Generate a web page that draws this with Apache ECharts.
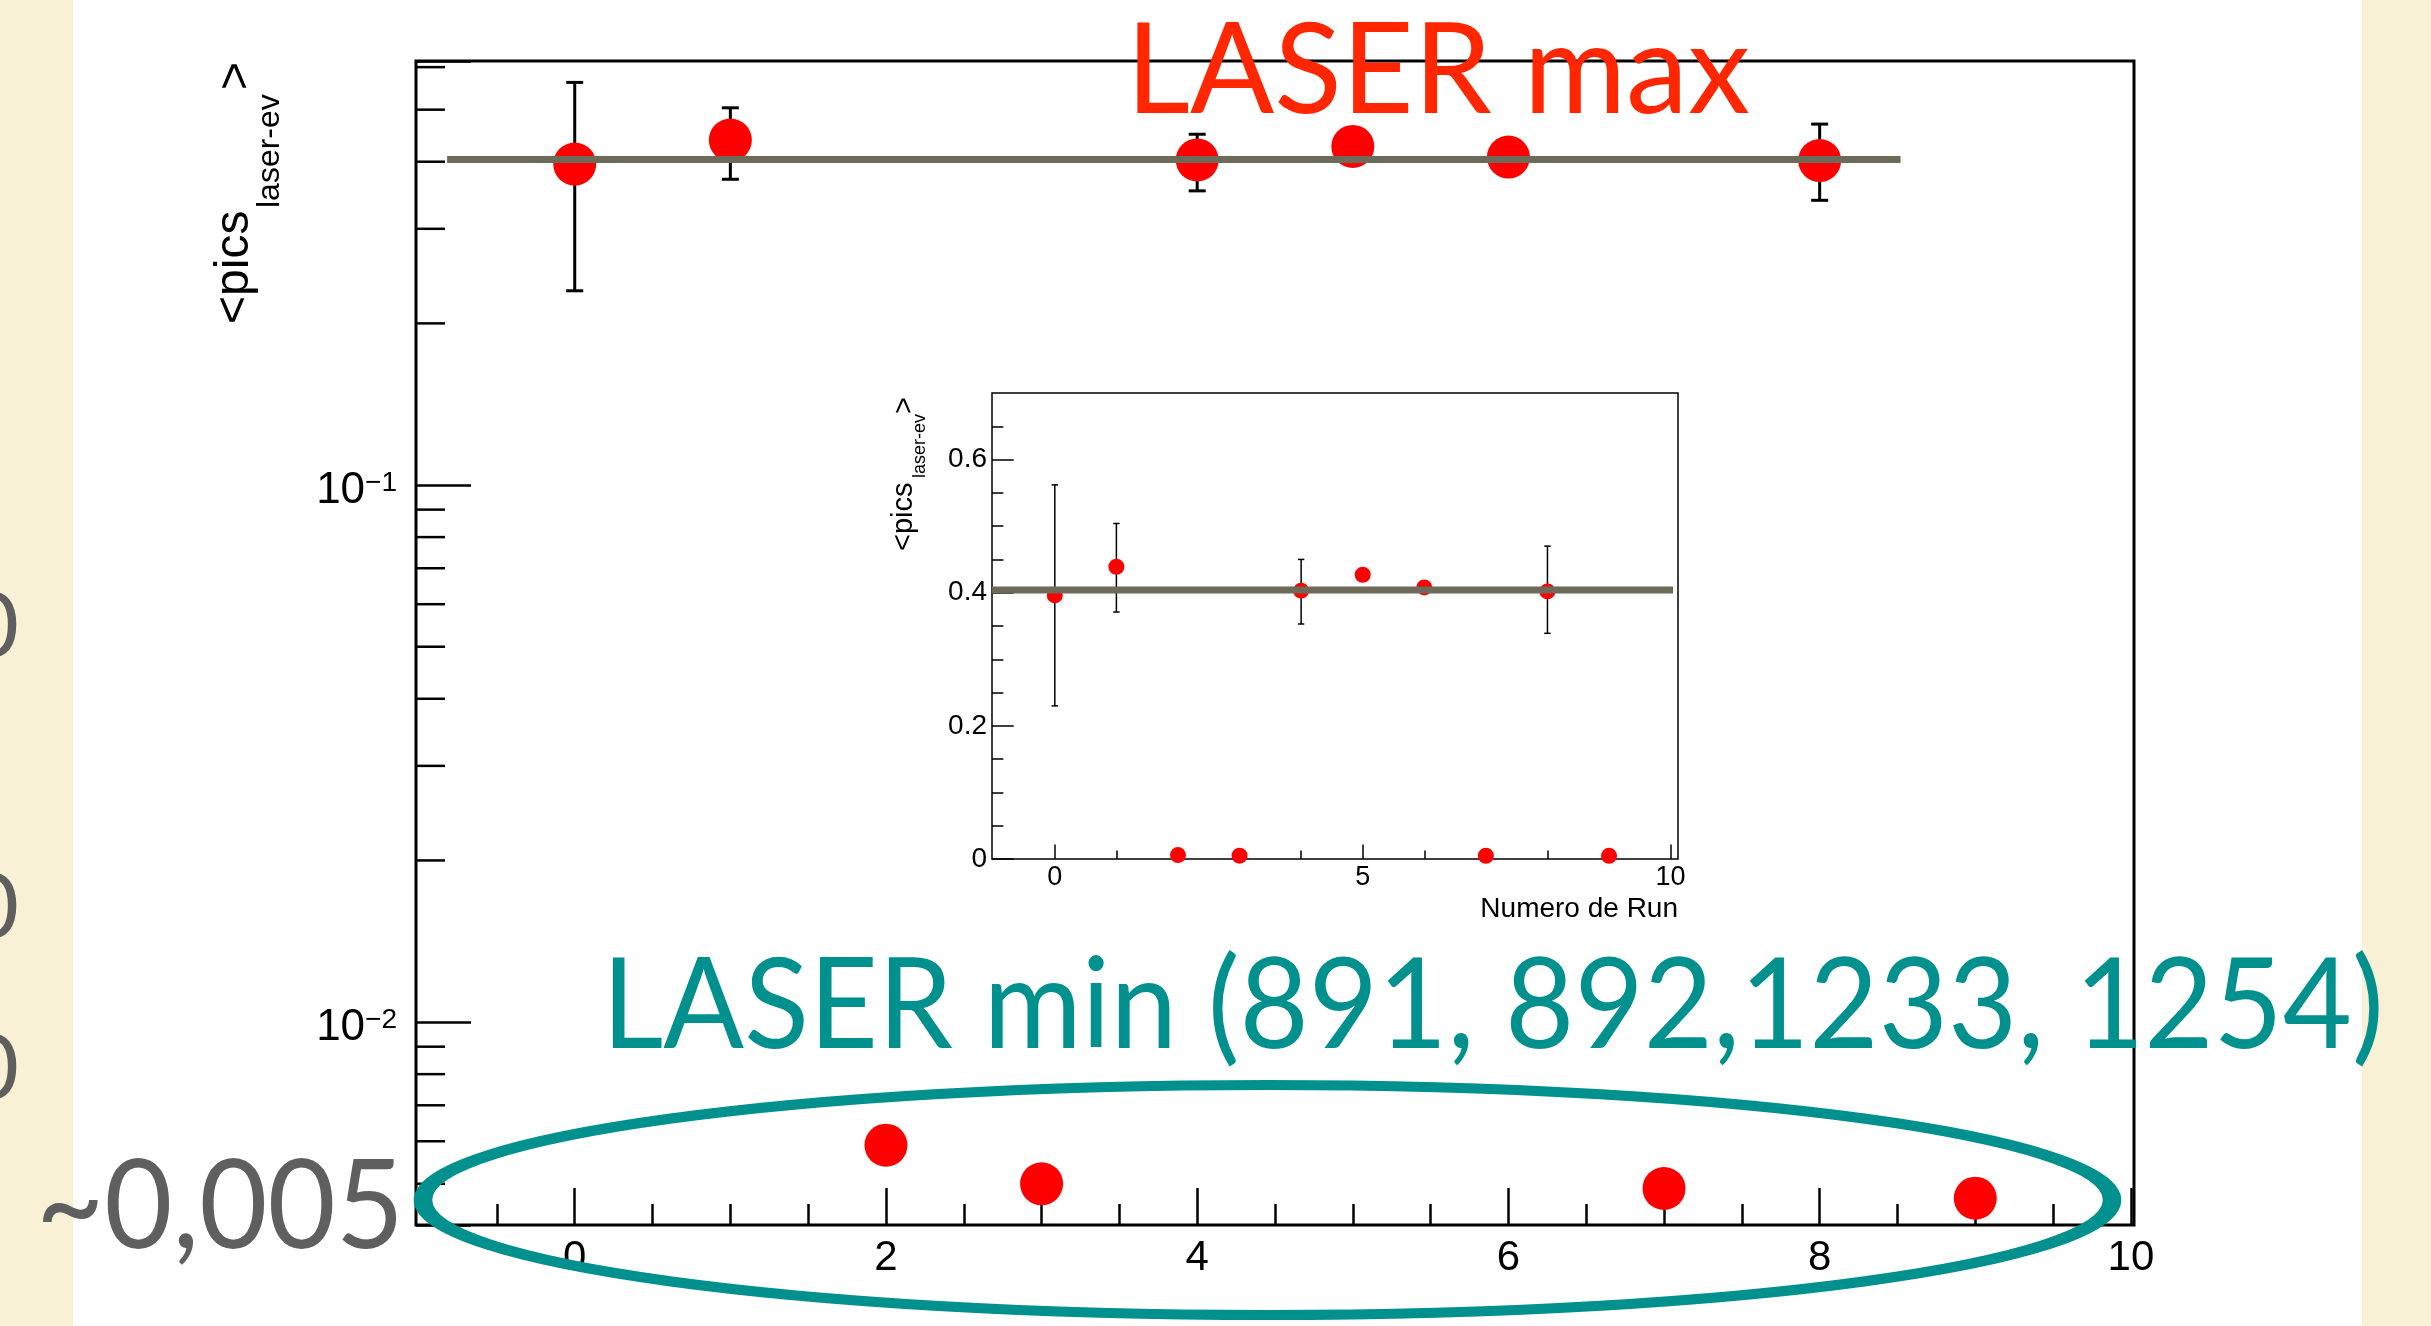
<!DOCTYPE html>
<html><head><meta charset="utf-8">
<script src="https://cdn.jsdelivr.net/npm/echarts@6/dist/echarts.min.js"></script>
<style>html,body{margin:0;padding:0;background:#fff}#c{width:2431px;height:1326px}</style>
</head><body><div id="c"></div>
<script>
// ---- data ----
const runs = [0, 1, 2, 3, 4, 5, 6, 7, 8, 9];
const picsMean = [0.396, 0.439, 0.0059, 0.0050, 0.403, 0.427, 0.408, 0.0049, 0.402, 0.0047];
const errRuns = [0, 1, 4, 8];
const errLow = [0.230, 0.371, 0.353, 0.339];
const errHigh = [0.562, 0.504, 0.450, 0.470];
const fitValue = 0.404;
const mainFitRange = [-0.82, 8.52];
const insetFitRange = [-1.02, 10.04];
const mainXTicks = [0, 2, 4, 6, 8, 10];
const mainXMinor = [-0.5, 0.5, 1, 1.5, 2.5, 3, 3.5, 4.5, 5, 5.5, 6.5, 7, 7.5, 8.5, 9, 9.5];
const mainYMinor = [0.005, 0.006, 0.007, 0.008, 0.009, 0.02, 0.03, 0.04, 0.05, 0.06, 0.07, 0.08, 0.09, 0.2, 0.3, 0.4, 0.5, 0.6];
const mainYDecadeLabels = {'0.01': '{a|10}{b|−2}', '0.1': '{a|10}{b|−1}'};
const insetXTicks = [0, 5, 10];
const insetXMinor = [1, 2, 3, 4, 6, 7, 8, 9];
const insetYTicks = [0, 0.2, 0.4, 0.6];
const insetYMinor = [0.05, 0.1, 0.15, 0.25, 0.3, 0.35, 0.45, 0.5, 0.55, 0.65];

// ---- layout / style ----
const FONT = 'Liberation Sans';
const SLIDE = 'Lato';
const mainX = [-1.02, 10.02], mainY = [0.00419, 0.616];
const insetX = [-1.02, 10.12], insetY = [0, 0.7];
const FITC = '#6d6a5a';

const cv = document.createElement('canvas').getContext('2d');
function fitScale(text, font, w) { cv.font = font; return w / cv.measureText(text).width; }

function errRender(capHalf, width) {
  return function (params, api) {
    const x = api.value(0), lo = api.value(1), hi = api.value(2);
    const a = api.coord([x, lo]), b = api.coord([x, hi]);
    const st = {stroke: '#000', lineWidth: width};
    return {type: 'group', children: [
      {type: 'line', shape: {x1: a[0], y1: a[1], x2: b[0], y2: b[1]}, style: st},
      {type: 'line', shape: {x1: a[0] - capHalf, y1: a[1], x2: a[0] + capHalf, y2: a[1]}, style: st},
      {type: 'line', shape: {x1: b[0] - capHalf, y1: b[1], x2: b[0] + capHalf, y2: b[1]}, style: st}
    ]};
  };
}
function yMinorRender(len, width) {
  return function (params, api) {
    const p = api.coord([api.value(0), api.value(1)]);
    return {type: 'line', shape: {x1: p[0], y1: p[1], x2: p[0] + len, y2: p[1]}, style: {stroke: '#000', lineWidth: width}};
  };
}
function tickAxis(grid, ext, vals, len, w, label, extra) {
  return Object.assign({
    gridIndex: grid, type: 'value', min: ext[0], max: ext[1], position: 'bottom',
    axisLine: {show: false, onZero: false}, splitLine: {show: false}, minorTick: {show: false},
    axisTick: {show: true, inside: true, length: len, customValues: vals, lineStyle: {color: '#000', width: w}},
    axisLabel: label ? Object.assign({customValues: vals, color: '#000', fontFamily: FONT}, label) : {show: false}
  }, extra || {});
}

const chart = echarts.init(document.getElementById('c'));
const fMax = `127px ${SLIDE}`, fMin = `127px ${SLIDE}`, fApprox = `124px ${SLIDE}`;
const txtMin = 'LASER min (891, 892,1233, 1254)';

chart.setOption({
  animation: false,
  backgroundColor: '#ffffff',
  textStyle: {fontFamily: FONT},
  grid: [
    {left: 416, top: 61, width: 1718, height: 1164, show: true, borderColor: '#000', borderWidth: 3, backgroundColor: 'transparent'},
    {left: 992, top: 393, width: 686, height: 466, show: true, borderColor: '#000', borderWidth: 1.5, backgroundColor: '#fff'}
  ],
  xAxis: [
    tickAxis(0, mainX, mainXTicks, 37, 2.5, {margin: 12, fontSize: 42}),
    tickAxis(0, mainX, mainXMinor, 21, 2.5, null),
    tickAxis(1, insetX, insetXTicks, 14.5, 1.5, {margin: 5, fontSize: 27}),
    tickAxis(1, insetX, insetXMinor, 8.4, 1.5, null)
  ],
  yAxis: [
    {gridIndex: 0, type: 'log', logBase: 10, min: mainY[0], max: mainY[1], position: 'left',
     axisLine: {show: false, onZero: false}, splitLine: {show: false}, minorTick: {show: false},
     axisTick: {show: true, inside: true, length: 55, lineStyle: {color: '#000', width: 2.5}},
     axisLabel: {margin: 19, padding: [12, 0, 0, 0],
       formatter: function (v) { const k = String(+v.toPrecision(6)); return mainYDecadeLabels[k] || ''; },
       rich: {a: {fontFamily: FONT, fontSize: 44, lineHeight: 44, color: '#000'},
              b: {fontFamily: FONT, fontSize: 28, color: '#000', verticalAlign: 'top', lineHeight: 18}}}},
    Object.assign(tickAxis(1, insetY, insetYTicks, 21.7, 1.5,
      {margin: 5, fontSize: 28, formatter: v => (v === 0 ? '0' : v.toFixed(1))}), {position: 'left'}),
    Object.assign(tickAxis(1, insetY, insetYMinor, 11.4, 1.5, null), {position: 'left'})
  ],
  series: [
    {type: 'custom', xAxisIndex: 0, yAxisIndex: 0, renderItem: errRender(8.5, 3), clip: false, z: 2, silent: true,
     encode: {x: 0, y: [1, 2]}, data: errRuns.map((x, i) => [x, errLow[i], errHigh[i]])},
    {type: 'scatter', xAxisIndex: 0, yAxisIndex: 0, symbol: 'circle', symbolSize: 43, z: 3, silent: true,
     itemStyle: {color: '#ff0000', opacity: 1}, data: runs.map((x, i) => [x, picsMean[i]])},
    {type: 'line', xAxisIndex: 0, yAxisIndex: 0, showSymbol: false, symbol: 'none', z: 4, silent: true,
     lineStyle: {color: FITC, width: 7, cap: 'butt'}, data: mainFitRange.map(x => [x, fitValue])},
    {type: 'custom', xAxisIndex: 0, yAxisIndex: 0, renderItem: yMinorRender(29, 2.5), clip: false, z: 2, silent: true,
     encode: {x: 0, y: 1}, data: mainYMinor.map(v => [mainX[0], v])},
    {type: 'custom', xAxisIndex: 2, yAxisIndex: 1, renderItem: errRender(3.2, 1.5), clip: false, z: 12, silent: true,
     encode: {x: 0, y: [1, 2]}, data: errRuns.map((x, i) => [x, errLow[i], errHigh[i]])},
    {type: 'scatter', xAxisIndex: 2, yAxisIndex: 1, symbol: 'circle', symbolSize: 16, z: 13, silent: true,
     itemStyle: {color: '#ff0000', opacity: 1}, data: runs.map((x, i) => [x, picsMean[i]])},
    {type: 'line', xAxisIndex: 2, yAxisIndex: 1, showSymbol: false, symbol: 'none', z: 14, silent: true,
     lineStyle: {color: FITC, width: 7, cap: 'butt'}, data: insetFitRange.map(x => [x, fitValue])}
  ],
  graphic: [
    {type: 'rect', z: -10, shape: {x: 0, y: 0, width: 73, height: 1326}, style: {fill: '#f9f1d5'}},
    {type: 'rect', z: -10, shape: {x: 2362, y: 0, width: 69, height: 1326}, style: {fill: '#f9f1d5'}},
    // main y title
    {type: 'text', x: 235, y: 324, rotation: Math.PI / 2, z: 50, style: {text: '<pics', fontFamily: FONT, fontSize: 48, fill: '#000', align: 'left', verticalAlign: 'middle'}},
    {type: 'text', x: 270, y: 208, rotation: Math.PI / 2, z: 50, style: {text: 'laser-ev', fontFamily: FONT, fontSize: 32, fill: '#000', align: 'left', verticalAlign: 'middle'}},
    {type: 'text', x: 237, y: 90, rotation: Math.PI / 2, z: 50, style: {text: '>', fontFamily: FONT, fontSize: 48, fill: '#000', align: 'left', verticalAlign: 'middle'}},
    // inset y title
    {type: 'text', x: 904, y: 551, rotation: Math.PI / 2, z: 50, style: {text: '<pics', fontFamily: FONT, fontSize: 29, fill: '#000', align: 'left', verticalAlign: 'middle'}},
    {type: 'text', x: 920, y: 478, rotation: Math.PI / 2, z: 50, style: {text: 'laser-ev', fontFamily: FONT, fontSize: 18, fill: '#000', align: 'left', verticalAlign: 'middle'}},
    {type: 'text', x: 905, y: 414, rotation: Math.PI / 2, z: 50, style: {text: '>', fontFamily: FONT, fontSize: 29, fill: '#000', align: 'left', verticalAlign: 'middle'}},
    // inset x title
    {type: 'text', x: 1678, y: 909, z: 50, style: {text: 'Numero de Run', fontFamily: FONT, fontSize: 28, fill: '#000', align: 'right', verticalAlign: 'middle'}},
    // slide annotations
    {type: 'text', x: 1126, y: 72, z: 100, scaleX: fitScale('LASER max', fMax, 624), style: {text: 'LASER max', font: fMax, fill: '#ff2600', align: 'left', verticalAlign: 'middle'}},
    {type: 'text', x: 602, y: 1007, z: 100, scaleX: fitScale(txtMin, fMin, 1782), style: {text: txtMin, font: fMin, fill: '#00918f', align: 'left', verticalAlign: 'middle'}},
    {type: 'text', x: 36, y: 1208, z: 100, scaleX: fitScale('~0,005', fApprox, 368), style: {text: '~0,005', font: fApprox, fill: '#5f5f5f', align: 'left', verticalAlign: 'middle'}},
    {type: 'text', x: 19, y: 628, z: 100, style: {text: '0', font: `91px ${SLIDE}`, fill: '#5f5f5f', align: 'right', verticalAlign: 'middle'}},
    {type: 'text', x: 19, y: 909, z: 100, style: {text: '0', font: `91px ${SLIDE}`, fill: '#5f5f5f', align: 'right', verticalAlign: 'middle'}},
    {type: 'text', x: 19, y: 1070, z: 100, style: {text: '0', font: `91px ${SLIDE}`, fill: '#5f5f5f', align: 'right', verticalAlign: 'middle'}},
    {type: 'ellipse', x: 1267.5, y: 1200, scaleX: 1.85, z: 100,
     shape: {cx: 0, cy: 0, rx: 456.5, ry: 115}, style: {fill: 'none', stroke: '#00918f', lineWidth: 10}}
  ]
});
</script></body></html>
